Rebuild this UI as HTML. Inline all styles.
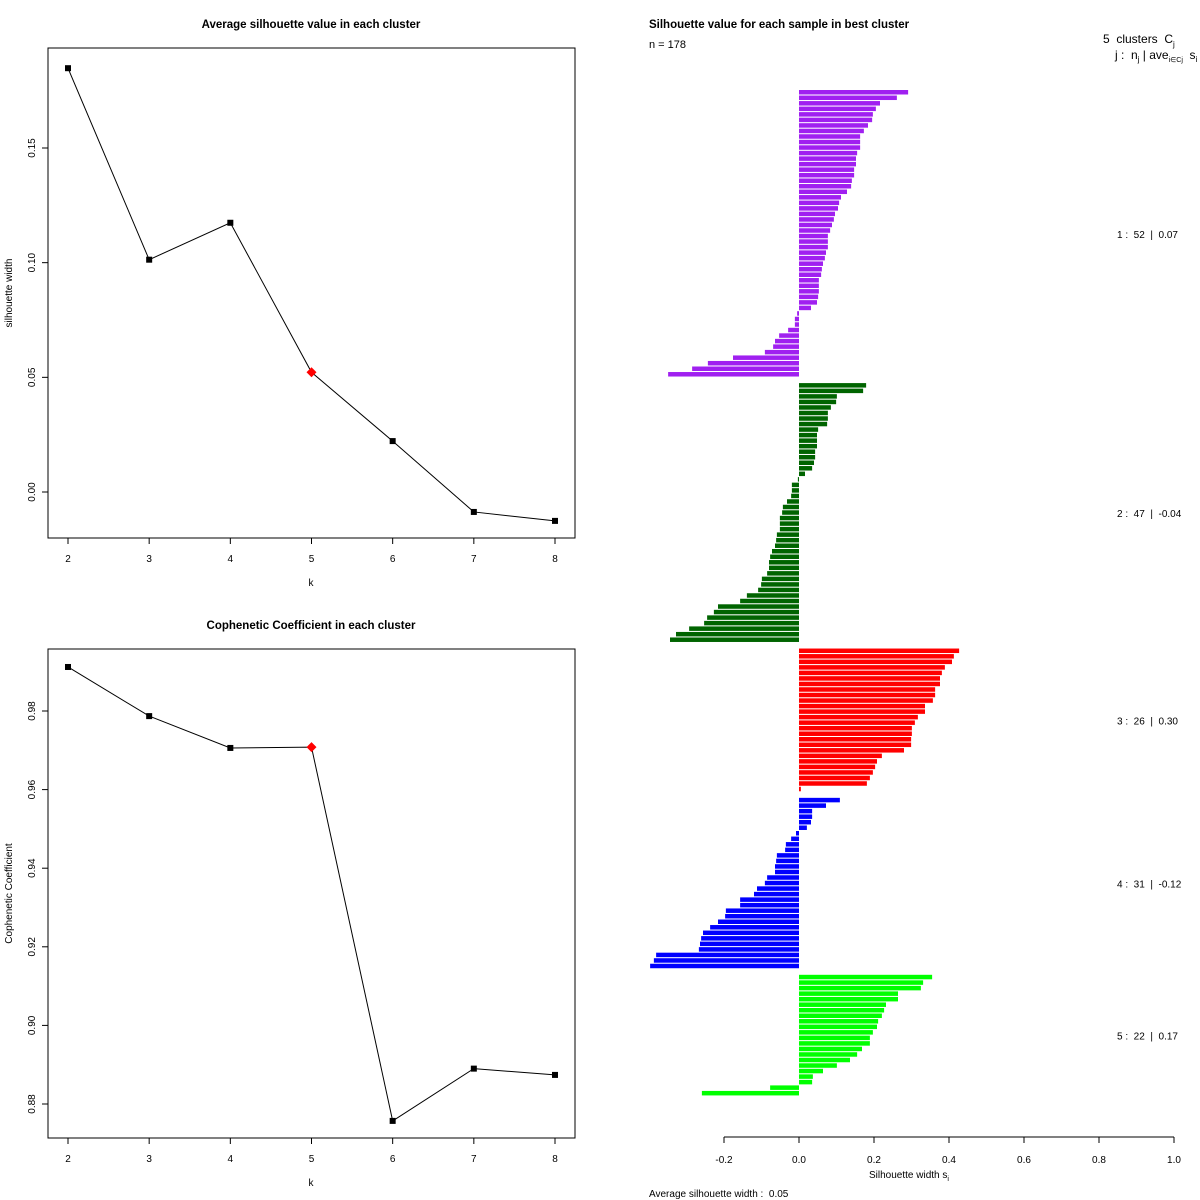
<!DOCTYPE html>
<html><head><meta charset="utf-8"><style>
html,body{margin:0;padding:0;background:#fff}
svg{display:block;font-family:"Liberation Sans",Arial,sans-serif}
svg text{white-space:pre}
</style></head><body>
<svg id="s" width="1200" height="1200" viewBox="0 0 1200 1200"></svg>
<script>
const kValues=[2,3,4,5,6,7,8];
const silAvg=[0.1848,0.1013,0.1174,0.0522,0.0222,-0.0087,-0.0126];
const copheneticVals=[0.9912,0.9787,0.9706,0.9708,0.8757,0.8890,0.8874];
const bestK=5;
const silTicks=[0,0.05,0.10,0.15];
const silTickLabels=["0.00","0.05","0.10","0.15"];
const copTicks=[0.88,0.90,0.92,0.94,0.96,0.98];
const copTickLabels=["0.88","0.90","0.92","0.94","0.96","0.98"];
const barTicks=[-0.2,0,0.2,0.4,0.6,0.8,1.0];
const barTickLabels=["-0.2","0.0","0.2","0.4","0.6","0.8","1.0"];
const cluster1=[.291,.261,.216,.205,.197,.195,.184,.173,.163,.163,.163,.155,.152,.152,.147,.147,.141,.139,.128,.112,.107,.104,.096,.093,.088,.083,.077,.077,.077,.072,.069,.064,.061,.059,.053,.053,.053,.051,.048,.032,-.005,-.011,-.011,-.029,-.053,-.064,-.069,-.091,-.176,-.243,-.285,-.349];
const cluster2=[.179,.171,.101,.099,.085,.077,.077,.075,.051,.048,.048,.048,.043,.043,.040,.035,.016,-.003,-.019,-.019,-.021,-.032,-.043,-.045,-.051,-.051,-.051,-.059,-.061,-.064,-.072,-.077,-.080,-.080,-.085,-.099,-.101,-.109,-.139,-.157,-.216,-.227,-.245,-.253,-.293,-.328,-.344];
const cluster3=[.427,.413,.408,.389,.381,.376,.376,.363,.363,.357,.336,.336,.317,.309,.301,.301,.299,.299,.280,.221,.208,.203,.197,.189,.181,.005];
const cluster4=[.109,.072,.035,.035,.032,.021,-.008,-.021,-.035,-.037,-.059,-.061,-.064,-.064,-.085,-.091,-.112,-.120,-.157,-.157,-.195,-.197,-.216,-.237,-.256,-.261,-.264,-.267,-.381,-.387,-.397];
const cluster5=[.355,.331,.325,.264,.264,.232,.227,.221,.211,.208,.197,.189,.189,.168,.155,.136,.101,.064,.037,.035,-.077,-.259];
const clusterLabels=["1 :  52  |  0.07","2 :  47  |  -0.04","3 :  26  |  0.30","4 :  31  |  -0.12","5 :  22  |  0.17"];
const clusterColors=["#a020f0","#006400","#ff0000","#0000ff","#00ff00"];

const NS="http://www.w3.org/2000/svg";
const svg=document.getElementById('s');
function mk(tag,attrs,parent,txt){const e=document.createElementNS(NS,tag);for(const k in attrs)e.setAttribute(k,attrs[k]);if(txt!==undefined)e.textContent=txt;(parent||svg).appendChild(e);return e;}

function linePanel(name,box,vals,yDomain,ticks,tickLabels,title,ylab){
  const g=mk('g',{});
  
  
  const xs=k=>68+(k-2)*(555-68)/6;
  const ys=v=>yDomain[0][1]+(v-yDomain[0][0])*(yDomain[1][1]-yDomain[0][1])/(yDomain[1][0]-yDomain[0][0]);
  const r=mk('rect',{x:box[0],y:box[1],width:box[2]-box[0],height:box[3]-box[1],fill:'none',stroke:'#000','stroke-width':1},g);
  
  const t=mk('text',{x:311,y:box[1]-20,'text-anchor':'middle','font-size':11.5,'font-weight':'bold'},g,title);
  
  kValues.forEach(k=>{const x=xs(k);mk('line',{x1:x,x2:x,y1:box[3],y2:box[3]+6,stroke:'#000'},g);
    const l=mk('text',{x:x,y:box[3]+24,'text-anchor':'middle','font-size':10},g,k);
    });
  const xl=mk('text',{x:311,y:box[3]+48,'text-anchor':'middle','font-size':10},g,'k');
  
  ticks.forEach((v,i)=>{const y=ys(v);mk('line',{x1:box[0]-6,x2:box[0],y1:y,y2:y,stroke:'#000'},g);
    const l=mk('text',{x:box[0]-13,y:y,'text-anchor':'middle','font-size':10,transform:`rotate(-90 ${box[0]-13} ${y})`},g,tickLabels[i]);
    });
  const cy=(box[1]+box[3])/2;
  const yl=mk('text',{x:12,y:cy,'text-anchor':'middle','font-size':10,transform:`rotate(-90 12 ${cy})`},g,ylab);
  
  const pts=vals.map((v,i)=>xs(kValues[i])+','+ys(v)).join(' ');
  const pl=mk('polyline',{points:pts,fill:'none',stroke:'#000','stroke-width':1},g);
  
  vals.forEach((v,i)=>{const x=xs(kValues[i]),y=ys(v);
    if(kValues[i]===bestK){const d=mk('polygon',{points:`${x},${y-5} ${x+5},${y} ${x},${y+5} ${x-5},${y}`,fill:'#ff0000'},g);
      }
    else{const p=mk('rect',{x:x-3,y:y-3,width:6,height:6,fill:'#000'},g);
      }});
}
linePanel('silhouette-panel',[48,48,575,538],silAvg,[[0,492],[0.15,148]],silTicks,silTickLabels,'Average silhouette value in each cluster','silhouette width');
linePanel('cophenetic-panel',[48,649,575,1138],copheneticVals,[[0.88,1104],[0.98,711]],copTicks,copTickLabels,'Cophenetic Coefficient in each cluster','Cophenetic Coefficient');

const bg=mk('g',{});


const bx=v=>799+v*375;
const pitch=5.53,barH=4.5;
let unit=0;const top0=90;
const clusters=[cluster1,cluster2,cluster3,cluster4,cluster5];
clusters.forEach((c,ci)=>{
  const yStart=top0+unit*pitch;
  c.forEach(v=>{const y=top0+unit*pitch;const x0=Math.min(bx(0),bx(v)),w=Math.abs(bx(v)-bx(0));
    const r=mk('rect',{x:x0,y:y,width:w,height:barH,fill:clusterColors[ci]},bg);
    unit++;});
  const yEnd=top0+unit*pitch;
  const l=mk('text',{x:1117,y:(yStart+yEnd)/2+4,'font-size':10},bg,clusterLabels[ci]);
  
  unit+=1;
});
mk('line',{x1:bx(-0.2),x2:bx(1),y1:1137,y2:1137,stroke:'#000'},bg);
barTicks.forEach((v,i)=>{const x=bx(v);mk('line',{x1:x,x2:x,y1:1137,y2:1143,stroke:'#000'},bg);
  const l=mk('text',{x:x,y:1163,'text-anchor':'middle','font-size':10},bg,barTickLabels[i]);
  });
const bxt=mk('text',{x:869,y:1178,'font-size':10},bg);

bxt.innerHTML='Silhouette width s<tspan font-size="7" dy="3">i</tspan>';
const avg=mk('text',{x:649,y:1197,'font-size':10},bg,'Average silhouette width :  0.05');

const bt=mk('text',{x:649,y:28,'font-size':11.5,'font-weight':'bold'},bg,'Silhouette value for each sample in best cluster');

const n=mk('text',{x:649,y:48,'font-size':11},bg,'n = 178');

const h1=mk('text',{x:1103,y:43,'font-size':12},bg);

h1.innerHTML='5  clusters  C<tspan font-size="8" dy="4">j</tspan>';
const h2=mk('text',{x:1115,y:59,'font-size':12},bg);

h2.innerHTML='j :  n<tspan font-size="8" dy="3">j</tspan><tspan dy="-3"> | ave</tspan><tspan font-size="7" dy="3">i∈Cj</tspan><tspan dy="-3">  s</tspan><tspan font-size="8" dy="3">i</tspan>';
</script>
</body></html>
